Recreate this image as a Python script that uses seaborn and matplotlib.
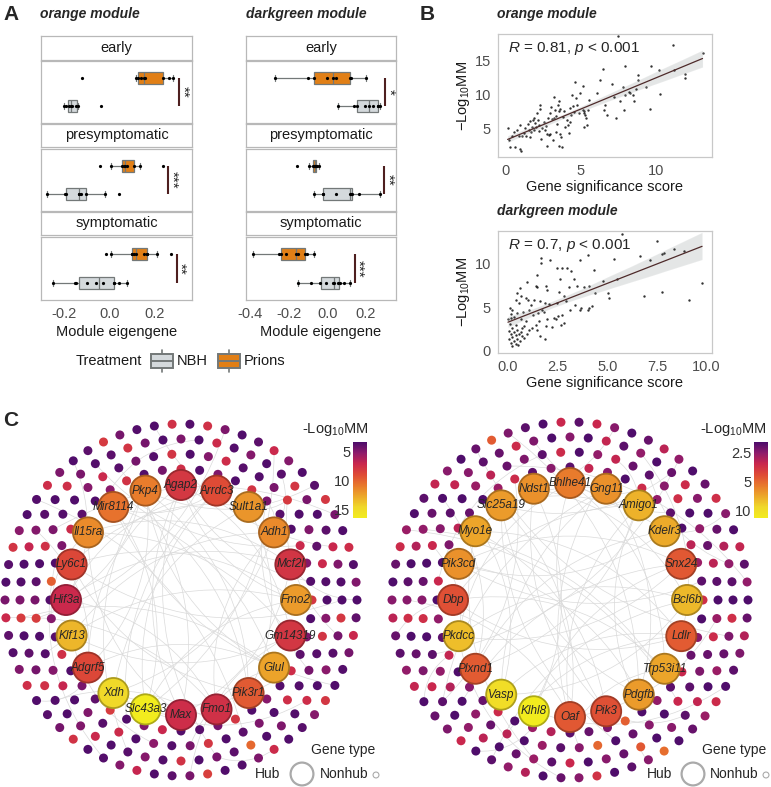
"""
Prion co-expression modules: eigengene boxplots (A), module membership vs
gene significance (B) and hub-gene networks (C).
"""

import numpy as np
import pandas as pd
import matplotlib
matplotlib.use("Agg")
import matplotlib.pyplot as plt
import seaborn as sns
from matplotlib.colors import LinearSegmentedColormap, Normalize, LogNorm, to_rgb
from matplotlib.patches import Rectangle, FancyArrowPatch
from matplotlib.ticker import NullLocator
from matplotlib.cm import ScalarMappable

# ─────────────────────────────────────────────
# Data
# ─────────────────────────────────────────────

stages = ["early", "presymptomatic", "symptomatic"]

# A: module eigengene per mouse
orange_early_prions = [-0.12, 0.115, 0.125, 0.14, 0.15, 0.155, 0.235, 0.26, 0.28]
orange_early_nbh = [-0.198, -0.19, -0.18, -0.17, -0.165, -0.145, -0.14, -0.035]
orange_pre_prions = [-0.041, 0.007, 0.056, 0.062, 0.07, 0.076, 0.107, 0.136, 0.234]
orange_pre_nbh = [-0.276, -0.195, -0.19, -0.135, -0.132, -0.124, -0.102, -0.019, 0.04]
orange_sym_prions = [-0.015, 0.007, 0.1, 0.1, 0.11, 0.118, 0.15, 0.165, 0.165, 0.208, 0.27]
orange_sym_nbh = [-0.249, -0.15, -0.146, -0.1, -0.058, -0.03, 0.018, 0.02, 0.044, 0.076]

dg_early_prions = [-0.272, -0.098, -0.07, 0.0, 0.027, 0.044, 0.118, 0.125, 0.2]
dg_early_nbh = [0.053, 0.139, 0.155, 0.195, 0.214, 0.235, 0.26, 0.262, 0.271]
dg_pre_prions = [-0.155, -0.095, -0.075, -0.07, -0.065, -0.062, -0.058, -0.055, -0.045]
dg_pre_nbh = [-0.069, -0.023, -0.02, 0.043, 0.118, 0.12, 0.126, 0.164, 0.271]
dg_sym_prions = [-0.385, -0.25, -0.24, -0.212, -0.164, -0.15, -0.115, -0.106, -0.07]
dg_sym_nbh = [-0.152, -0.086, -0.039, -0.008, 0.03, 0.035, 0.053, 0.065, 0.084, 0.118]

orange_stars = ["**", "***", "**"]
dg_stars = ["*", "**", "***"]

# B: gene significance score vs -log10 module membership
orange_gs = [0.13, 0.2, 0.31, 0.64, 0.58, 0.75, 0.86, 0.98, 0.93, 1.0,
             1.2, 1.3, 1.37, 1.46, 1.53, 1.6, 1.64, 1.75, 1.82, 1.86,
             1.9, 1.97, 2.04, 2.08, 2.15, 2.2, 2.24, 2.3, 2.3, 2.35,
             2.42, 2.53, 2.6, 2.7, 2.75, 2.8, 2.86, 2.93, 2.97, 3.0,
             3.08, 3.15, 3.2, 3.24, 3.3, 3.35, 3.37, 3.41, 3.46, 3.53,
             3.57, 3.64, 3.68, 3.75, 3.81, 3.86, 3.97, 4.08, 4.12, 4.19,
             4.26, 4.3, 4.35, 4.41, 4.48, 4.52, 4.59, 4.66, 4.75, 4.86,
             4.97, 5.14, 5.14, 5.19, 5.23, 5.3, 5.36, 5.41, 5.45, 5.52,
             5.23, 6.08, 6.3, 6.47, 6.56, 6.63, 6.74, 7.07, 7.18, 7.36,
             7.47, 7.63, 7.78, 7.85, 7.96, 7.96, 8.18, 8.29, 8.5, 8.55,
             8.69, 8.8, 8.8, 9.33, 9.58, 9.69, 10.22, 10.29, 11.13, 11.18,
             11.95, 11.95, 13.1, 1.09, 0.42, 2.75, 3.53, 3.64, 1.69]
orange_mm = [5.0, 3.3, 2.2, 2.2, 4.5, 4.75, 3.9, 5.5, 1.9, 1.7,
             4.3, 5.0, 3.9, 5.7, 4.75, 6.1, 3.7, 5.25, 6.2, 4.75,
             6.6, 5.8, 5.25, 7.2, 6.3, 4.65, 5.5, 8.5, 7.8, 3.4,
             5.0, 6.0, 4.75, 5.35, 4.2, 6.5, 4.0, 7.2, 4.1, 8.1,
             6.35, 3.3, 6.6, 9.7, 7.7, 6.8, 4.5, 5.65, 8.5, 7.6,
             9.0, 7.8, 3.75, 2.2, 6.7, 7.6, 5.25, 6.2, 5.5, 4.25,
             8.0, 6.0, 7.0, 9.95, 8.3, 7.4, 11.8, 9.45, 8.5, 7.2,
             10.2, 11.3, 7.7, 7.2, 7.5, 7.0, 6.6, 5.5, 7.7, 9.2,
             5.25, 10.2, 12.1, 13.8, 7.7, 8.5, 7.0, 11.6, 9.7, 6.6,
             18.7, 9.1, 11.2, 7.7, 14.3, 9.95, 10.45, 10.2, 9.95, 9.1,
             10.9, 12.9, 12.2, 11.1, 7.8, 14.3, 13.6, 10.1, 17.4, 13.7,
             13.0, 12.5, 16.2, 3.8, 3.8, 2.3, 2.3, 4.2, 4.5]

dg_gs = [5.75, 7.5, 1.64, 1.68, 2.11, 4.02, 3.65, 5.33, 6.67, 7.17,
         7.76, 7.84, 8.34, 8.84, 2.45, 2.73, 2.98, 3.18, 2.61, 3.35,
         4.32, 4.79, 5.49, 0.94, 1.44, 1.39, 1.47, 1.94, 1.98, 2.56,
         3.07, 3.48, 3.85, 4.07, 4.36, 5.03, 5.09, 9.77, 6.87, 7.76,
         9.1, 0.6, 0.47, 0.67, 0.39, 0.57, 0.89, 1.0, 1.14, 1.31,
         1.61, 1.73, 1.89, 2.06, 2.45, 2.81, 2.9, 3.11, 3.4, 3.62,
         3.69, 4.07, 4.24, 4.02, 0.1, 0.22, 0.17, 0.47, 0.77, 1.06,
         1.27, 1.51, 1.81, 2.31, 2.51, 2.73, 2.4, 1.98, 1.56, 1.39,
         1.22, 1.44, 1.94, 2.23, 2.65, 2.81, 1.61, 1.89, 0.0, 0.13,
         0.3, 0.64, 0.89, 0.1, 0.39, 0.8, 0.22, 0.47, 0.05, 0.3,
         0.64, 0.13, 0.39, 0.55, 0.72, 0.22, 0.47, 0.05, 0.3, 0.6,
         0.13, 0.39, 0.22, 0.5, 0.8, 0.94, 1.06, 0.72]
dg_mm = [13.5, 12.7, 10.7, 10.1, 10.4, 11.0, 10.4, 10.6, 10.9, 10.4,
         11.2, 11.3, 11.7, 11.5, 9.5, 9.5, 9.5, 9.2, 8.3, 8.3,
         9.3, 8.0, 8.3, 7.9, 8.7, 7.5, 7.3, 7.5, 7.0, 6.8,
         7.3, 7.4, 7.3, 7.4, 6.65, 6.65, 6.1, 7.8, 6.3, 6.8,
         5.9, 7.2, 6.65, 6.3, 5.9, 5.5, 6.1, 5.8, 5.3, 5.9,
         5.7, 4.7, 5.5, 5.4, 5.5, 6.3, 5.7, 4.7, 5.3, 4.7,
         4.9, 4.9, 5.1, 4.7, 4.9, 4.7, 4.2, 4.3, 4.5, 4.7,
         4.1, 4.3, 4.5, 3.8, 4.0, 4.15, 3.6, 3.7, 3.4, 3.0,
         2.6, 2.4, 2.8, 2.7, 3.0, 3.2, 1.65, 1.4, 3.6, 3.8,
         3.85, 3.7, 3.4, 3.1, 3.0, 2.9, 2.6, 2.4, 2.3, 2.15,
         2.2, 1.9, 1.8, 1.9, 1.65, 1.55, 1.4, 1.3, 1.1, 1.1,
         0.9, 0.75, 0.5, 0.7, 1.5, 1.9, 2.4, 2.6]

# C: hub genes (clockwise from the top) and their -log10 MM
orange_hubs = ["Agap2", "Arrdc3", "Sult1a1", "Adh1", "Mcf2l", "Fmo2", "Gm14319",
               "Glul", "Pik3r1", "Fmo1", "Max", "Slc43a3", "Xdh", "Adgrf5",
               "Klf13", "Hif3a", "Ly6c1", "Il15ra", "Mir8114", "Pkp4"]
orange_hub_mm = [8.0, 9.0, 12.0, 11.5, 7.8, 12.2, 7.9, 12.5, 9.6, 7.6,
                 7.4, 16.5, 14.7, 8.8, 13.3, 7.2, 8.8, 11.6, 10.6, 11.0]

dg_hubs = ["Bhlhe41", "Gng11", "Amigo1", "Kdelr3", "Snx24", "Bcl6b", "Ldlr",
           "Trp53i11", "Pdgfb", "Pik3", "Oaf", "Klhl8", "Vasp", "Plxnd1",
           "Pkdcc", "Dbp", "Pik3cd", "Myo1e", "Slc25a19", "Ndst1"]
dg_hub_mm = [5.6, 6.3, 7.5, 7.2, 4.6, 7.8, 4.7, 7.0, 6.6, 4.4,
             4.6, 11.9, 9.8, 4.7, 8.0, 4.4, 6.3, 7.0, 6.6, 6.3]

# nonhub genes, one list per ring (inner to outer)
orange_ring1 = [7.5, 3.6, 4.8, 3.5, 7.8, 4.6, 3.7, 3.5, 7.2, 4.9, 3.6, 8.0, 3.5, 4.7, 3.8,
                7.4, 3.6, 5.0, 3.5, 7.9, 4.5, 3.7, 3.6, 7.1, 4.8, 3.5, 8.2, 3.9, 4.6, 3.5,
                7.6, 3.7, 4.9, 3.6, 9.8, 3.5, 4.7, 7.3, 3.8, 3.5, 5.1, 7.7, 3.6, 4.5]
orange_ring2 = [3.5, 4.9, 7.4, 3.7, 3.6, 4.6, 8.1, 3.5, 4.8, 3.9, 7.2, 3.6, 3.5, 5.0, 7.8,
                3.7, 4.5, 3.6, 7.5, 3.5, 4.7, 3.8, 3.5, 7.9, 4.6, 3.6, 5.2, 3.5, 7.3, 3.7,
                4.8, 3.5, 7.0, 4.9, 3.6, 3.5, 8.3, 4.6, 3.8, 3.5, 7.6, 4.7, 3.6, 3.5, 5.0,
                7.2, 3.7, 4.5, 3.6, 7.8]
orange_ring3 = [4.7, 3.5, 7.3, 3.6, 4.9, 3.5, 3.7, 7.9, 4.6, 3.5, 3.8, 7.1, 4.8, 3.6, 3.5,
                8.0, 4.5, 3.7, 5.1, 3.5, 7.4, 3.6, 4.7, 3.5, 10.2, 3.8, 4.6, 3.5, 7.7, 3.6,
                5.0, 3.7, 3.5, 7.2, 4.8, 3.5, 3.6, 7.6, 4.5, 3.9, 3.5, 8.2, 4.7, 3.6, 3.5,
                7.0, 4.9, 3.7, 3.5, 7.5, 4.6, 3.6, 3.8, 7.8, 4.5, 3.5]
orange_ring4 = [3.6, 7.6, 4.7, 3.5, 3.8, 7.2, 4.9, 3.5, 3.7, 8.0, 4.6, 3.5, 7.4, 3.6, 4.8,
                3.5, 3.9, 7.1, 4.5, 3.6, 3.5, 7.9, 5.0, 3.7, 3.5, 7.3, 4.7, 3.6, 3.5, 8.4,
                4.6, 3.8, 3.5, 7.0, 4.9, 3.6, 3.5, 7.7, 4.5, 3.7, 3.5, 7.5, 4.8, 3.6, 3.9,
                7.2, 4.6, 3.5, 3.7, 7.8, 5.1, 3.5, 3.6, 7.4, 4.7, 3.5, 3.8, 8.1, 4.5, 3.6,
                3.5, 7.6]

dg_ring1 = [2.1, 3.2, 2.5, 2.0, 3.4, 2.6, 2.1, 2.0, 3.1, 2.7, 2.1, 3.5, 2.0, 2.5, 2.2,
            3.3, 2.1, 2.6, 2.0, 4.8, 2.4, 2.2, 2.1, 3.0, 2.7, 2.0, 3.4, 2.2, 2.5, 2.0,
            3.2, 2.1, 2.6, 2.0, 3.3, 2.0, 2.4, 3.1, 2.2, 2.0, 2.7, 3.4, 2.1, 2.5]
dg_ring2 = [2.0, 2.6, 3.2, 2.2, 2.1, 2.5, 3.5, 2.0, 2.6, 2.2, 3.1, 2.1, 2.0, 2.7, 3.4,
            2.2, 2.4, 2.1, 3.3, 2.0, 2.5, 2.2, 2.0, 5.0, 2.5, 2.1, 2.7, 2.0, 3.1, 2.2,
            2.6, 2.0, 3.0, 2.6, 2.1, 2.0, 3.5, 2.5, 2.2, 2.0, 3.3, 2.5, 2.1, 2.0, 2.7,
            3.1, 2.2, 2.4, 2.1, 3.4]
dg_ring3 = [2.5, 2.0, 3.2, 2.1, 2.6, 2.0, 2.2, 3.4, 2.5, 2.0, 2.2, 3.0, 2.6, 2.1, 2.0,
            3.5, 2.4, 2.2, 2.7, 2.0, 3.2, 2.1, 2.5, 2.0, 4.6, 2.2, 2.5, 2.0, 3.3, 2.1,
            2.7, 2.2, 2.0, 3.1, 2.6, 2.0, 2.1, 3.3, 2.4, 2.2, 2.0, 3.5, 2.5, 2.1, 2.0,
            3.0, 2.6, 2.2, 2.0, 3.2, 2.5, 2.1, 2.2, 3.4, 2.4, 2.0]
dg_ring4 = [2.1, 3.3, 2.5, 2.0, 2.2, 3.1, 2.6, 2.0, 2.2, 3.5, 2.5, 2.0, 3.2, 2.1, 2.6,
            2.0, 2.2, 3.0, 2.4, 2.1, 2.0, 3.4, 2.7, 2.2, 2.0, 5.2, 2.5, 2.1, 2.0, 3.6,
            2.5, 2.2, 2.0, 3.0, 2.6, 2.1, 2.0, 3.3, 2.4, 2.2, 2.0, 3.2, 2.6, 2.1, 2.2,
            3.1, 2.5, 2.0, 2.2, 3.4, 2.7, 2.0, 2.1, 3.2, 2.5, 2.0, 2.2, 4.7, 2.4, 2.1,
            2.0, 3.3]

# co-expression edges (node index pairs: hubs 0-19, then nonhubs ring by ring)
orange_edges = [(0, 10), (0, 13), (1, 11), (1, 15), (2, 12), (2, 16), (3, 14), (3, 9),
                (4, 15), (4, 17), (5, 16), (5, 11), (6, 17), (6, 0), (7, 18), (7, 13),
                (8, 19), (8, 2), (9, 15), (10, 4), (11, 18), (12, 3), (13, 19), (14, 6),
                (16, 8), (17, 10), (18, 1), (19, 7), (0, 5), (12, 9), (0, 30), (0, 140),
                (1, 45), (2, 70), (3, 120), (4, 185), (5, 98), (6, 200), (7, 155), (8, 60),
                (9, 215), (10, 110), (11, 175), (12, 35), (13, 160), (14, 90), (15, 225),
                (16, 128), (17, 52), (18, 190), (19, 145), (3, 25), (7, 88), (11, 134),
                (15, 62), (19, 178), (25, 80), (40, 150), (55, 205), (70, 130), (85, 222),
                (100, 172), (115, 60), (140, 195), (165, 28), (180, 105), (210, 48), (230, 125)]
dg_edges = [(0, 9), (0, 14), (1, 12), (1, 17), (2, 10), (2, 15), (3, 13), (3, 18),
            (4, 11), (4, 16), (5, 14), (5, 19), (6, 12), (6, 17), (7, 15), (7, 0),
            (8, 16), (8, 1), (9, 17), (10, 18), (11, 19), (13, 2), (14, 4), (15, 6),
            (16, 3), (18, 8), (19, 9), (12, 5), (0, 24), (1, 150), (2, 66), (3, 180),
            (4, 95), (5, 205), (6, 118), (7, 42), (8, 228), (9, 135), (10, 77), (11, 190),
            (12, 58), (13, 162), (14, 104), (15, 214), (16, 30), (17, 144), (18, 86),
            (19, 172), (2, 38), (6, 92), (10, 156), (14, 201), (18, 120), (22, 88),
            (36, 160), (50, 210), (68, 126), (82, 220), (98, 176), (112, 54), (138, 196),
            (168, 26), (184, 110), (206, 44), (226, 130), (150, 61)]

# ─────────────────────────────────────────────
# Style
# ─────────────────────────────────────────────

W, H = 771, 787
ORANGE = "#E17F16"
GREY_FILL = "#D4D9DC"
BOX_EDGE = "#737878"
FRAME = "#B8B8B8"
SIG = "#4E1F1F"
TICK = "#4D4D4D"
EDGE = "#DADADA"
TREAT_ORDER = ["Prions", "NBH"]
TREAT_COLORS = {"Prions": ORANGE, "NBH": GREY_FILL}
MM_CMAP = LinearSegmentedColormap.from_list(
    "mm", ["#4B0C6B", "#8E1B6B", "#C9274D", "#DE4A36", "#E8782C", "#ECA82A", "#F0D82A", "#F2EC1E"])

sns.set_style("white")
plt.rcParams["font.family"] = ["Liberation Sans", "DejaVu Sans"]
plt.rcParams["mathtext.fontset"] = "custom"
plt.rcParams["mathtext.rm"] = "Liberation Sans"
plt.rcParams["mathtext.it"] = "Liberation Sans:italic"
plt.rcParams["axes.unicode_minus"] = False


def px_axes(fig, x0, y0, x1, y1):
    """Axes placed by pixel box (origin top-left)."""
    return fig.add_axes([x0 / W, 1 - y1 / H, (x1 - x0) / W, (y1 - y0) / H])


def frame(ax, color=FRAME, lw=0.9):
    for s in ax.spines.values():
        s.set_visible(True)
        s.set_color(color)
        s.set_linewidth(lw)


# ─────────────────────────────────────────────
# Panel A
# ─────────────────────────────────────────────

def strip(ax, label):
    ax.set_xticks([])
    ax.set_yticks([])
    frame(ax)
    ax.text(0.5, 0.5, label, ha="center", va="center", fontsize=10.5,
            color="#1A1A1A", transform=ax.transAxes)


def box_facet(ax, prions, nbh, xlim, xticks, bottom):
    df = pd.DataFrame({"value": prions + nbh,
                       "Treatment": ["Prions"] * len(prions) + ["NBH"] * len(nbh)})
    sns.boxplot(data=df, x="value", y="Treatment", hue="Treatment", order=TREAT_ORDER,
                hue_order=TREAT_ORDER, palette=TREAT_COLORS, width=0.42, dodge=False,
                saturation=1, showfliers=False, linecolor=BOX_EDGE, linewidth=0.9,
                legend=False, ax=ax)
    sns.stripplot(data=df, x="value", y="Treatment", order=TREAT_ORDER, color="black",
                  size=2.3, jitter=False, ax=ax)
    ax.set_xlim(*xlim)
    ax.set_ylim(1.6, -0.6)
    ax.set_ylabel("")
    ax.set_yticks([])
    ax.set_xticks(xticks)
    frame(ax)
    if bottom:
        ax.set_xticklabels([f"{t:.1f}" for t in xticks])
        ax.tick_params(axis="x", length=3, color=FRAME, labelsize=10.5, labelcolor=TICK, pad=2)
        ax.set_xlabel("Module eigengene", fontsize=10.5, color="#1A1A1A")
        ax.xaxis.set_label_coords(0.5, -0.4)
    else:
        ax.set_xlabel("")
        ax.tick_params(axis="x", length=0, labelbottom=False)


def sig_bar(ax, x, stars):
    ax.plot([x, x], [0, 1], color=SIG, lw=1.5, solid_capstyle="butt")
    ax.annotate(stars, xy=(x, 0.5), xytext=(2.5, 0), textcoords="offset points",
                rotation=270, ha="center", va="center", fontsize=11)


fig = plt.figure(figsize=(W / 100, H / 100), dpi=100)

ov = fig.add_axes([0, 0, 1, 1])
ov.set_xlim(0, W)
ov.set_ylim(H, 0)
ov.axis("off")
ov.set_zorder(10)

A_ROWS = [(36, 60, 61, 123), (124, 147, 149, 211), (212, 235, 237, 300)]
a_columns = [
    ((41, 192), [(orange_early_prions, orange_early_nbh), (orange_pre_prions, orange_pre_nbh),
                 (orange_sym_prions, orange_sym_nbh)],
     (-0.301, 0.363), [-0.2, 0.0, 0.2], [0.308, 0.259, 0.295], orange_stars),
    ((246, 396), [(dg_early_prions, dg_early_nbh), (dg_pre_prions, dg_pre_nbh),
                  (dg_sym_prions, dg_sym_nbh)],
     (-0.42, 0.355), [-0.4, -0.2, 0.0, 0.2], [0.299, 0.294, 0.143], dg_stars),
]
for (x0, x1), sets, xlim, xticks, sig_x, stars in a_columns:
    for k, (stage, (pri, nbh)) in enumerate(zip(stages, sets)):
        s0, s1, p0, p1 = A_ROWS[k]
        strip(px_axes(fig, x0, s0, x1, s1), stage)
        ax = px_axes(fig, x0, p0, x1, p1)
        box_facet(ax, pri, nbh, xlim, xticks, bottom=(k == 2))
        sig_bar(ax, sig_x[k], stars[k])

ov.text(3, 14, "A", fontsize=15, fontweight="bold", va="center")
ov.text(40, 14, "orange module", fontsize=10, fontweight="bold", style="italic", va="center")
ov.text(246, 14, "darkgreen module", fontsize=10, fontweight="bold", style="italic", va="center")

# treatment legend
ov.text(76, 361, "Treatment", fontsize=10.5, va="center", color="#1A1A1A")
for gx, fill, label in [(151, GREY_FILL, "NBH"), (218, ORANGE, "Prions")]:
    ov.add_patch(Rectangle((gx, 354), 22, 14, facecolor=fill, edgecolor=BOX_EDGE, lw=1.4))
    ov.plot([gx, gx + 22], [361, 361], color=BOX_EDGE, lw=1.4)
    ov.plot([gx + 11, gx + 11], [350, 354], color=BOX_EDGE, lw=1.2)
    ov.plot([gx + 11, gx + 11], [368, 372], color=BOX_EDGE, lw=1.2)
    ov.text(gx + 26, 361, label, fontsize=10.5, va="center", color="#1A1A1A")

# ─────────────────────────────────────────────
# Panel B
# ─────────────────────────────────────────────

def mm_panel(ax, gs, mm, xlim, ylim, xticks, xticklabels, yticks, r_label):
    sns.regplot(x=gs, y=mm, ax=ax, ci=95, n_boot=500, seed=1, truncate=True,
                scatter_kws={"s": 3, "color": "black", "linewidths": 0},
                line_kws={"color": "#4E5A5A", "lw": 0})
    sns.regplot(x=gs, y=mm, ax=ax, ci=None, scatter=False, truncate=True,
                line_kws={"color": "#4E2A2A", "lw": 0.9})
    ax.set_xlim(*xlim)
    ax.set_ylim(*ylim)
    ax.set_xticks(xticks)
    ax.set_xticklabels(xticklabels)
    ax.set_yticks(yticks)
    frame(ax, "#C8C8C8")
    ax.tick_params(length=3, color="#C8C8C8", labelsize=10.5, labelcolor=TICK, pad=2)
    ax.set_xlabel("Gene significance score", fontsize=10.5, color="#1A1A1A")
    ax.set_ylabel("\u2212Log$_{10}$MM", fontsize=10.5, color="#1A1A1A")
    ax.xaxis.set_label_coords(0.5, -0.19)
    ax.yaxis.set_label_coords(-0.12, 0.5)
    ax.text(0.047, 0.885, r_label, transform=ax.transAxes, fontsize=11, va="center")


ax_b1 = px_axes(fig, 498, 34, 712, 157)
mm_panel(ax_b1, orange_gs, orange_mm, (-0.51, 13.73), (0.74, 19.0), [0, 5, 10],
         ["0", "5", "10"], [5, 10, 15], "$R$ = 0.81, $p$ < 0.001")
ax_b2 = px_axes(fig, 498, 231, 712, 353)
mm_panel(ax_b2, dg_gs, dg_mm, (-0.5, 10.27), (-0.27, 13.8), [0, 2.5, 5, 7.5, 10],
         ["0.0", "2.5", "5.0", "7.5", "10.0"], [0, 5, 10], "$R$ = 0.7, $p$ < 0.001")

ov.text(420, 14, "B", fontsize=15, fontweight="bold", va="center")
ov.text(497, 14, "orange module", fontsize=10, fontweight="bold", style="italic", va="center")
ov.text(497, 211, "darkgreen module", fontsize=10, fontweight="bold", style="italic", va="center")

# ─────────────────────────────────────────────
# Panel C
# ─────────────────────────────────────────────

def draw_network(ax, cx, cy, hub_r, ring_r, hubs, hub_vals, rings, edges, norm):
    n_hub = len(hubs)
    a = np.deg2rad(90 - np.arange(n_hub) * 360 / n_hub)
    xs, ys = [cx + hub_r * np.cos(a)], [cy - hub_r * np.sin(a)]
    for k, (r, vals) in enumerate(zip(ring_r, rings)):
        n = len(vals)
        a = np.deg2rad(90 - (np.arange(n) + 0.5 * (k % 2)) * 360 / n)
        xs.append(cx + r * np.cos(a))
        ys.append(cy - r * np.sin(a))
    xs, ys = np.concatenate(xs), np.concatenate(ys)

    for i, j in edges:
        ax.add_patch(FancyArrowPatch((xs[i], ys[i]), (xs[j], ys[j]), arrowstyle="-",
                                     connectionstyle="arc3,rad=0.25", color=EDGE, lw=0.5,
                                     shrinkA=0, shrinkB=0, zorder=1))

    sns.scatterplot(x=xs[n_hub:], y=ys[n_hub:], hue=np.concatenate(rings), hue_norm=norm,
                    palette=MM_CMAP, s=42, linewidth=0, legend=False, ax=ax, zorder=2)

    fills = MM_CMAP(norm(np.array(hub_vals)))
    edges_c = [tuple(np.array(to_rgb(f)) * 0.72) for f in fills]
    ax.scatter(xs[:n_hub], ys[:n_hub], s=470, c=fills, edgecolors=edges_c,
               linewidths=1.3, zorder=3)
    for name, x, y in zip(hubs, xs[:n_hub], ys[:n_hub]):
        ax.text(x, y, name, style="italic", fontsize=8.5, ha="center", va="center", zorder=4)


def mm_colorbar(box, norm, ticks, labels):
    cax = px_axes(fig, *box)
    cb = fig.colorbar(ScalarMappable(norm=norm, cmap=MM_CMAP), cax=cax)
    cb.set_ticks(ticks, labels=labels)
    cb.ax.yaxis.set_minor_locator(NullLocator())
    cb.outline.set_visible(False)
    cax.invert_yaxis()
    cax.tick_params(axis="y", which="major", left=True, right=True, labelleft=True,
                    labelright=False, direction="in", length=3, width=0.8, color="white",
                    labelsize=10.5, labelcolor="#333333", pad=2)


norm_orange = Normalize(3.3, 16.5)
norm_dg = LogNorm(1.97, 11.9)

ax_c1 = px_axes(fig, 0, 410, 390, 787)
draw_network(ax_c1, 181, 600, 115, [131, 146, 161, 176], orange_hubs, orange_hub_mm,
             [orange_ring1, orange_ring2, orange_ring3, orange_ring4], orange_edges, norm_orange)
ax_c1.set_xlim(0, 390)
ax_c1.set_ylim(787, 410)
ax_c1.axis("off")

ax_c2 = px_axes(fig, 385, 410, 771, 787)
draw_network(ax_c2, 570, 600, 117, [133, 148, 163, 178], dg_hubs, dg_hub_mm,
             [dg_ring1, dg_ring2, dg_ring3, dg_ring4], dg_edges, norm_dg)
ax_c2.set_xlim(385, 771)
ax_c2.set_ylim(787, 410)
ax_c2.axis("off")

mm_colorbar((353, 442, 367, 518), norm_orange, [5, 10, 15], ["5", "10", "15"])
mm_colorbar((754, 442, 768, 518), norm_dg, [2.5, 5, 10], ["2.5", "5", "10"])

ov.text(3, 421, "C", fontsize=15, fontweight="bold", va="center")
ov.text(368, 430, "-Log$_{10}$MM", fontsize=10.5, ha="right", va="center")
ov.text(766, 430, "-Log$_{10}$MM", fontsize=10.5, ha="right", va="center")

# gene type legends
for tx, hx, cx_big, nx, cx_small in [(311, 255, 302, 320, 376), (702, 647, 693, 710, 766)]:
    ov.text(tx, 750, "Gene type", fontsize=10, va="center")
    ov.text(hx, 774, "Hub", fontsize=10, va="center")
    ov.scatter([cx_big], [774], s=270, facecolors="none", edgecolors="#AAAAAA", linewidths=1.6)
    ov.text(nx, 774, "Nonhub", fontsize=10, va="center")
    ov.scatter([cx_small], [775], s=18, facecolors="none", edgecolors="#AAAAAA", linewidths=0.8)

fig.savefig("out.png", dpi=100)
plt.close(fig)
